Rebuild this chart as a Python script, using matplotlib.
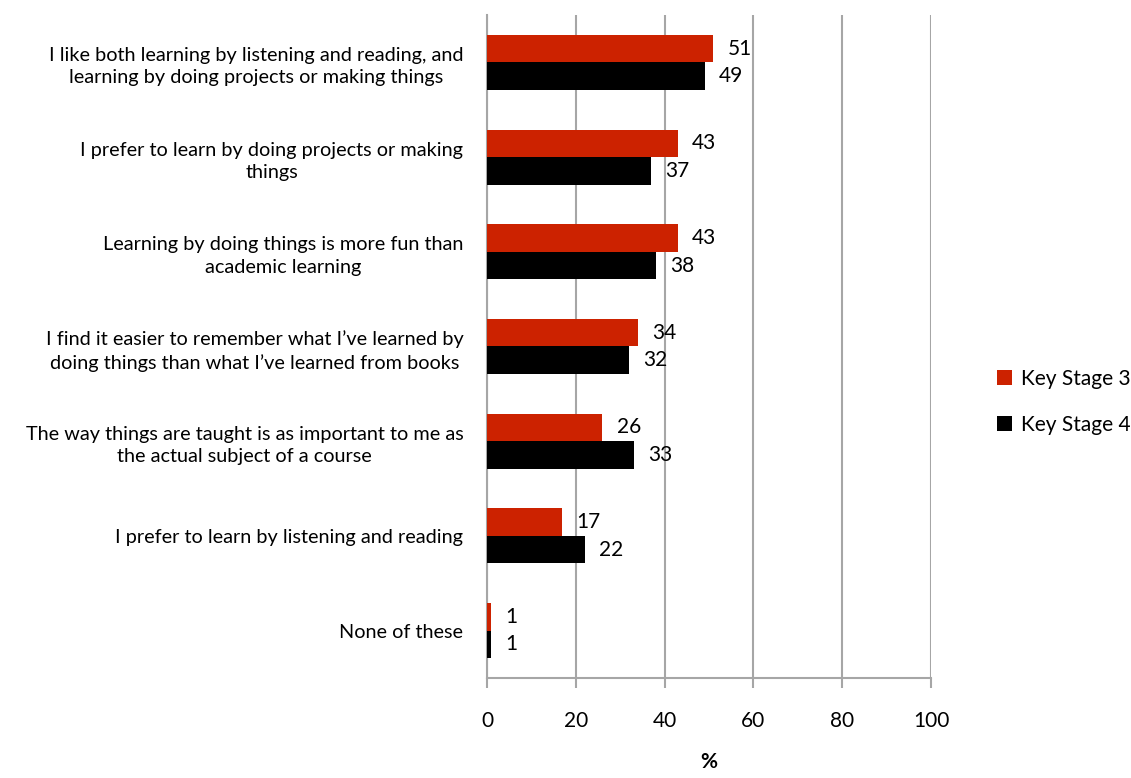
import numpy as np
import matplotlib
matplotlib.use("Agg")
import matplotlib.pyplot as plt

plt.rcParams['font.family'] = ['Lato', 'DejaVu Sans']

categories = [
    "I like both learning by listening and reading, and\nlearning by doing projects or making things",
    "I prefer to learn by doing projects or making\nthings",
    "Learning by doing things is more fun than\nacademic learning",
    "I find it easier to remember what I\u2019ve learned by\ndoing things than what I\u2019ve learned from books",
    "The way things are taught is as important to me as\nthe actual subject of a course",
    "I prefer to learn by listening and reading",
    "None of these",
]
ks3 = [51, 43, 43, 34, 26, 17, 1]
ks4 = [49, 37, 38, 32, 33, 22, 1]
xticks = [0, 20, 40, 60, 80, 100]

red = '#CC2200'
grid_grey = '#A6A6A6'

fig = plt.figure(figsize=(11.31, 7.78), dpi=100)
ax = fig.add_axes([487 / 1131, 1 - 678 / 778, 444 / 1131, 663 / 778])

y = np.arange(len(categories))
h = 0.29
b3 = ax.barh(y - h / 2, ks3, height=h, color=red, label='Key Stage 3', zorder=3)
b4 = ax.barh(y + h / 2, ks4, height=h, color='black', label='Key Stage 4', zorder=3)

for bars, vals in ((b3, ks3), (b4, ks4)):
    for bar, v in zip(bars, vals):
        ax.text(v + 3.2, bar.get_y() + bar.get_height() / 2, str(v),
                va='center', ha='left', fontsize=15, color='black')

ax.set_xlim(0, 100)
ax.set_ylim(len(categories) - 0.5, -0.5)
ax.set_xticks(xticks)
ax.set_xticklabels([str(t) for t in xticks], fontsize=15)
ax.set_yticks(y)
ax.set_yticklabels(categories, fontsize=14.3, multialignment='center',
                   linespacing=1.4)
ax.tick_params(axis='y', length=0, pad=17)
ax.tick_params(axis='x', length=7, width=1.5, color=grid_grey, pad=17)

ax.grid(axis='x', color=grid_grey, linewidth=1.5, zorder=0)
ax.set_axisbelow(True)
for s in ('top', 'right'):
    ax.spines[s].set_visible(False)
for s in ('left', 'bottom'):
    ax.spines[s].set_color(grid_grey)
    ax.spines[s].set_linewidth(1.5)

ax.set_xlabel('%', fontsize=15, fontweight='bold', labelpad=15)

leg = fig.legend(handles=[b3, b4], loc='center left',
                 bbox_to_anchor=(978 / 1131, 1 - 402 / 778),
                 frameon=False, fontsize=15, handlelength=0.75, handleheight=0.75,
                 handletextpad=0.4, labelspacing=1.25)

fig.savefig('out.png', dpi=100)
